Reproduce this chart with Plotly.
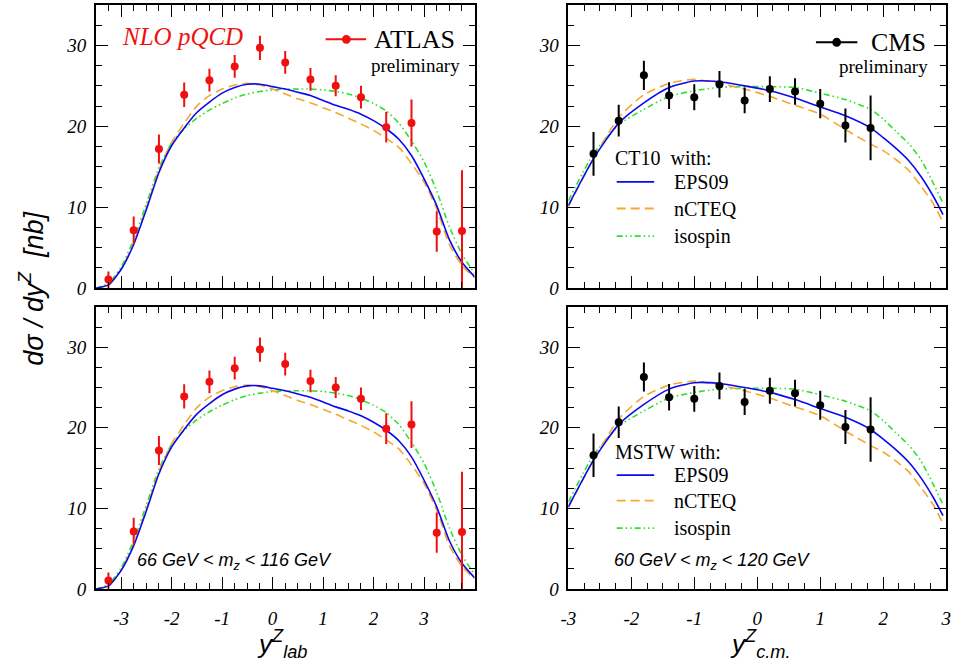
import plotly.graph_objects as go

W, H = 963, 668

# ---------------- data ----------------
atlas_y = [-3.25, -2.75, -2.25, -1.75, -1.25, -0.75, -0.25, 0.25, 0.75, 1.25, 1.75, 2.25, 2.75, 3.25, 3.75]
atlas_val = [1.06, 7.15, 17.2, 23.9, 25.7, 27.4, 29.7, 27.9, 25.8, 25.0, 23.6, 19.9, 20.4, 7.0, 7.07]
atlas_err = [1.0, 1.7, 1.8, 1.5, 1.4, 1.4, 1.5, 1.4, 1.4, 1.3, 1.4, 1.9, 2.9, 2.5, 7.5]

cms_y = [-2.6, -2.2, -1.8, -1.4, -1.0, -0.6, -0.2, 0.2, 0.6, 1.0, 1.4, 1.8]
cms_val = [16.6, 20.7, 26.3, 23.8, 23.6, 25.2, 23.2, 24.6, 24.3, 22.8, 20.1, 19.8]
cms_err = [2.7, 1.95, 1.8, 1.65, 1.6, 1.65, 1.6, 1.6, 1.65, 1.8, 2.1, 4.0]

lab_grid = [-3.5, -3.25, -3.0, -2.75, -2.5, -2.25, -2.0, -1.75, -1.5, -1.25, -1.0, -0.75, -0.5, -0.25,
            0.0, 0.25, 0.5, 0.75, 1.0, 1.25, 1.5, 1.75, 2.0, 2.25, 2.5, 2.75, 3.0, 3.25, 3.5, 3.75, 4.0]
lab_eps09 = [0.0, 0.4, 2.3, 5.4, 9.7, 14.3, 17.6, 19.8, 21.7, 23.0, 24.1, 24.8, 25.2, 25.2,
             24.9, 24.6, 24.2, 23.8, 23.2, 22.6, 22.1, 21.5, 20.7, 19.7, 18.4, 16.4, 13.5, 10.2, 6.0, 3.2, 1.4]
lab_ncteq = [0.0, 0.4, 2.3, 5.5, 9.9, 14.6, 18.0, 20.4, 22.5, 23.8, 24.6, 25.1, 25.3, 25.1,
             24.6, 24.0, 23.4, 22.9, 22.3, 21.7, 21.0, 20.3, 19.5, 18.5, 17.4, 15.4, 13.1, 9.8, 5.4, 2.8, 1.3]
lab_iso = [0.0, 0.6, 2.6, 6.0, 10.4, 14.9, 17.9, 19.7, 21.0, 22.0, 22.8, 23.5, 24.0, 24.3,
           24.5, 24.6, 24.6, 24.6, 24.5, 24.3, 24.0, 23.5, 22.8, 21.9, 20.4, 18.2, 15.6, 12.0, 7.6, 4.2, 1.8]

cm_grid = [-3.0, -2.6, -2.2, -1.8, -1.4, -1.0, -0.6, -0.2, 0.2, 0.6, 1.0, 1.4, 1.8, 2.0, 2.2, 2.4, 2.6, 2.8, 2.95]
cm_eps09 = [10.2, 16.0, 20.4, 22.9, 24.8, 25.6, 25.5, 25.0, 24.4, 23.5, 22.4, 21.3, 19.8, 18.6, 17.3, 15.8, 13.8, 11.3, 9.1]
cm_ncteq = [10.1, 16.0, 21.1, 23.9, 25.3, 25.8, 25.3, 24.6, 23.7, 22.6, 21.5, 19.6, 17.8, 17.0, 15.9, 14.6, 12.6, 10.4, 8.1]
cm_iso = [10.8, 16.6, 20.2, 22.1, 23.7, 24.4, 24.8, 24.9, 24.9, 24.8, 24.1, 23.3, 22.1, 20.9, 19.4, 17.9, 15.9, 12.9, 10.5]

x_ticks_lab = [-3, -2, -1, 0, 1, 2, 3]
x_ticks_cm = [-3, -2, -1, 0, 1, 2, 3]
y_ticks = [0, 10, 20, 30]

# ---------------- styles ----------------
BLUE = "#0a0aee"
ORANGE = "#f7a82e"
GREEN = "#2ee02e"
RED = "#f01010"
dash_or = "9px,5px"
dash_gr = "6px,3px,1.5px,3px,1.5px,3px"

fig = go.Figure()

panels = [
    ("x", "y", lab_grid, lab_eps09, lab_ncteq, lab_iso, atlas_y, atlas_val, atlas_err, RED),
    ("x2", "y2", cm_grid, cm_eps09, cm_ncteq, cm_iso, cms_y, cms_val, cms_err, "black"),
    ("x3", "y3", lab_grid, lab_eps09, lab_ncteq, lab_iso, atlas_y, atlas_val, atlas_err, RED),
    ("x4", "y4", cm_grid, cm_eps09, cm_ncteq, cm_iso, cms_y, cms_val, cms_err, "black"),
]
for xa, ya, g, e, n, iso, dx, dv, de, col in panels:
    fig.add_trace(go.Scatter(x=g, y=iso, mode="lines", xaxis=xa, yaxis=ya, showlegend=False,
                             line=dict(color=GREEN, width=1.6, dash=dash_gr, shape="spline", smoothing=0.6)))
    fig.add_trace(go.Scatter(x=g, y=n, mode="lines", xaxis=xa, yaxis=ya, showlegend=False,
                             line=dict(color=ORANGE, width=1.6, dash=dash_or, shape="spline", smoothing=0.6)))
    fig.add_trace(go.Scatter(x=g, y=e, mode="lines", xaxis=xa, yaxis=ya, showlegend=False,
                             line=dict(color=BLUE, width=1.6, shape="spline", smoothing=0.6)))
    fig.add_trace(go.Scatter(x=dx, y=dv, mode="markers", xaxis=xa, yaxis=ya, showlegend=False,
                             marker=dict(color=col, size=8),
                             error_y=dict(type="data", array=de, color=col, thickness=2, width=0)))

xdomL = [89 / W, 473 / W]
xdomR = [568 / W, 951 / W]
ydomT = [1 - 293 / H, 1 - 5 / H]
ydomB = [1 - 599 / H, 1 - 312 / H]

tickfont = dict(family="Liberation Serif", size=19, color="black", style="italic")


def xax(dom, rng, anchor, labels, ticks):
    return dict(domain=dom, range=rng, anchor=anchor, showgrid=False, zeroline=False,
                showline=True, linecolor="black", linewidth=1.5, mirror="allticks",
                ticks="inside", ticklen=12, tickwidth=1.2, tickcolor="black",
                tickvals=ticks, ticktext=[str(t) for t in ticks], showticklabels=labels,
                tickfont=tickfont, ticklabelstandoff=11,
                minor=dict(dtick=0.25, ticks="inside", ticklen=6, tickwidth=1.2, tickcolor="black", tick0=0))


def yax(dom, anchor):
    return dict(domain=dom, range=[0, 35], anchor=anchor, showgrid=False, zeroline=False,
                showline=True, linecolor="black", linewidth=1.5, mirror="allticks",
                ticks="inside", ticklen=12, tickwidth=1.2, tickcolor="black",
                tickvals=y_ticks, ticktext=[str(t) for t in y_ticks],
                tickfont=tickfont, ticklabelstandoff=4,
                minor=dict(dtick=2.5, ticks="inside", ticklen=6, tickwidth=1.2, tickcolor="black", tick0=0))


fig.update_layout(
    width=W, height=H, margin=dict(l=0, r=0, t=0, b=0),
    paper_bgcolor="white", plot_bgcolor="white", showlegend=False,
    xaxis=xax(xdomL, [-3.5, 4.0], "y", False, x_ticks_lab),
    yaxis=yax(ydomT, "x"),
    xaxis2=xax(xdomR, [-3, 3], "y2", False, x_ticks_cm),
    yaxis2=yax(ydomT, "x2"),
    xaxis3=xax(xdomL, [-3.5, 4.0], "y3", True, x_ticks_lab),
    yaxis3=yax(ydomB, "x3"),
    xaxis4=xax(xdomR, [-3, 3], "y4", True, x_ticks_cm),
    yaxis4=yax(ydomB, "x4"),
)


def px(x):
    return x / W


def py(y):
    return 1 - y / H


ann = []
shapes = []


def text(x, y, s, size, family="Liberation Serif", color="black", xanchor="left", style="normal", angle=0):
    ann.append(dict(x=px(x), y=py(y), xref="paper", yref="paper", text=s, showarrow=False,
                    xanchor=xanchor, yanchor="middle", textangle=angle,
                    font=dict(family=family, size=size, color=color, style=style)))


def hline(x0, x1, y, color, dash="solid", width=1.8):
    shapes.append(dict(type="line", xref="paper", yref="paper", x0=px(x0), x1=px(x1), y0=py(y), y1=py(y),
                       line=dict(color=color, width=width, dash=dash)))


def dot(x, y, r, color):
    shapes.append(dict(type="circle", xref="paper", yref="paper", x0=px(x - r), x1=px(x + r),
                       y0=py(y + r), y1=py(y - r), fillcolor=color, line=dict(color=color, width=0)))


# axis titles
text(24, 293, "dσ / dy<sup>Z</sup>  [nb]", 27, family="Liberation Sans", xanchor="center", style="italic", angle=-90)
text(278, 655, "y<sup>Z</sup><sub>lab</sub>", 26, family="Liberation Sans", xanchor="center", style="italic")
text(762, 655, "y<sup>Z</sup><sub>c.m.</sub>", 26, family="Liberation Sans", xanchor="center", style="italic")

# top-left labels
text(177, 37, "NLO pQCD", 25, color=RED, xanchor="center", style="italic")
hline(322, 363, 40, RED, width=2)
dot(343, 40, 4.5, RED)
text(369, 40, "ATLAS", 26)
text(460, 67, "preliminary", 19, xanchor="right")

# top-right labels
hline(819, 861, 43, "black", width=2)
dot(840, 43, 4.5, "black")
text(873, 43, "CMS", 26)
text(935, 68, "preliminary", 19, xanchor="right")


def pdf_legend(title, ytitle, ys):
    text(613, ytitle, title, 20)
    hline(617, 655, ys[0], BLUE)
    hline(617, 655, ys[1], ORANGE, dash=dash_or)
    hline(617, 655, ys[2], GREEN, dash=dash_gr)
    text(673, ys[0], "EPS09", 20)
    text(673, ys[1], "nCTEQ", 20)
    text(673, ys[2], "isospin", 20)


pdf_legend("CT10  with:", 161, [185, 212, 240])
pdf_legend("MSTW with:", 460, [483, 509, 537])

# mass-window labels
text(230, 571, "66 GeV &lt; m<sub>z</sub> &lt; 116 GeV", 18, family="Liberation Sans", xanchor="center", style="italic")
text(714, 571, "60 GeV &lt; m<sub>z</sub> &lt; 120 GeV", 18, family="Liberation Sans", xanchor="center", style="italic")

fig.update_layout(annotations=ann, shapes=shapes)
fig.write_html("out.html")
